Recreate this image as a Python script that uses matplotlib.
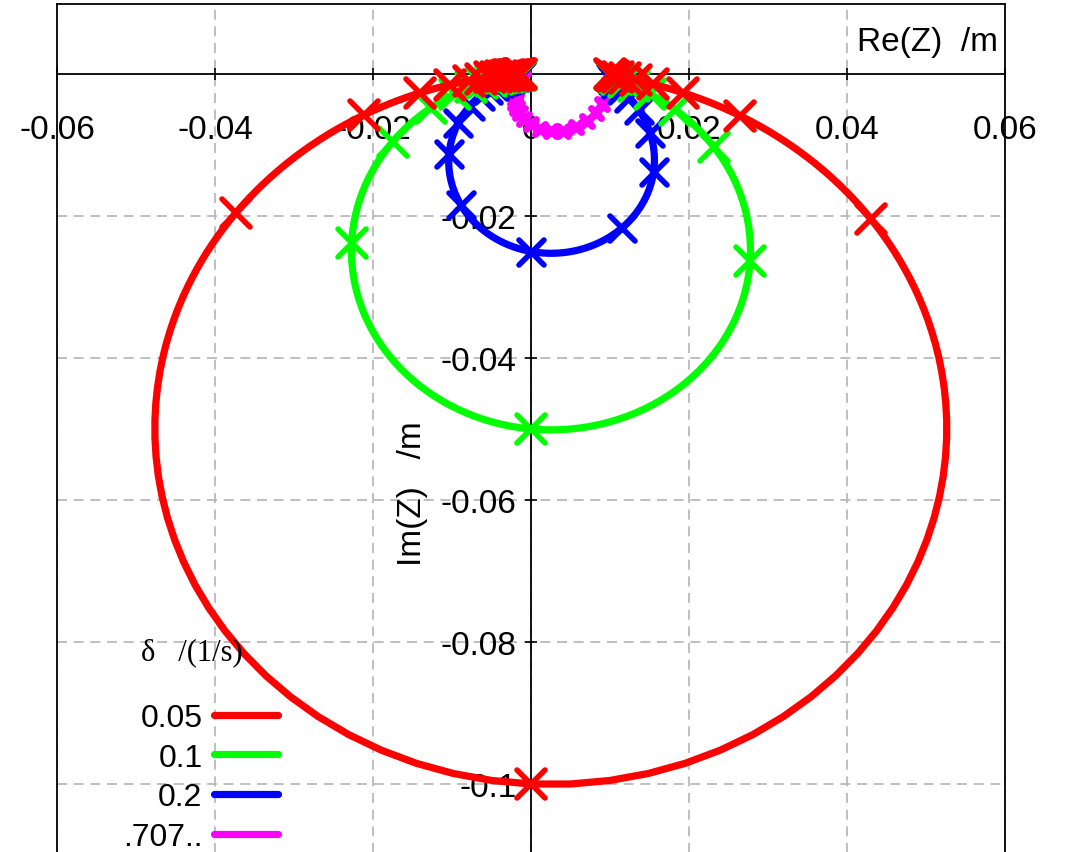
import numpy as np
import matplotlib
matplotlib.use('Agg')
import matplotlib.pyplot as plt
from matplotlib.lines import Line2D
from matplotlib.markers import MarkerStyle

plt.rcParams['font.family'] = ['Liberation Sans', 'DejaVu Sans']

# driven oscillator: Z = F/m / (w0^2 - w^2 + 2 i delta w)
f_over_m = 0.01      # m/s^2
omega0 = 1.0         # 1/s
deltas = [0.05, 0.1, 0.2, 0.707]
labels = ['0.05', '0.1', '0.2', '.707..']
colors = ['#ff0000', '#00ff00', '#0000ff', '#ff00ff']
omega_marks = np.round(np.arange(0, 3.0001, 0.1), 2)   # marker frequencies
omega_line = np.linspace(0, 3, 1201)

xticks = [-0.06, -0.04, -0.02, 0, 0.02, 0.04, 0.06]
yticks = [-0.1, -0.08, -0.06, -0.04, -0.02]


def response(w, d):
    return f_over_m / (omega0**2 - w**2 + 2j * d * w)


fig = plt.figure(figsize=(10.66, 8.53), dpi=100)
W, H = 1066, 853
x_left, x_right, y_top, y_bot = 57, 1005, 5, 870.2
ax = fig.add_axes([x_left / W, (H - y_bot) / H, (x_right - x_left) / W, (y_bot - y_top) / H])
ax.set_xlim(-0.06, 0.06)
ax.set_ylim(-0.112, 0.00986)

ax.grid(True, color='#b4b4b4', linestyle=(0, (6, 4)), linewidth=1.2)
ax.set_axisbelow(True)

# spines through the origin, plus frame on left/top/right
ax.spines['bottom'].set_position(('data', 0))
ax.spines['left'].set_position(('data', 0))
for s in ['bottom', 'left', 'top', 'right']:
    ax.spines[s].set_linewidth(1.3)
    ax.spines[s].set_zorder(1)
ax.plot([0, 0], [0, 1], transform=ax.transAxes, color='black', lw=1.3, clip_on=False, zorder=1)

ax.set_xticks(xticks)
ax.set_yticks(yticks)
ax.set_xticklabels([f'{v:g}' for v in xticks])
ax.set_yticklabels([f'{v:g}' for v in yticks])
ax.tick_params(axis='both', direction='inout', length=9, width=1.2, labelsize=24)
ax.tick_params(axis='x', pad=24)
ax.tick_params(axis='y', pad=6)

order = [3, 2, 1, 0]
for i in order:
    d = deltas[i]
    z_line = response(omega_line, d)
    z_mark = response(omega_marks, d)
    ax.plot(z_line.real, z_line.imag, color=colors[i], lw=5.2, solid_capstyle='round', zorder=3)
    if i == 3:
        ms, mew = 7.5, 5.0
    elif i == 2:
        ms, mew = 18, 4.0
    else:
        ms, mew = 20, 4.0
    ax.plot(z_mark.real, z_mark.imag, linestyle='none',
            marker=MarkerStyle('x', capstyle='round'), ms=ms, mew=mew,
            color=colors[i], zorder=3)

handles = [Line2D([], [], color=c, lw=5.2, solid_capstyle='round') for c in colors]
leg = ax.legend(handles, labels, markerfirst=False, frameon=False,
                loc='upper left',
                bbox_to_anchor=(123 / W, 1 - 704 / H), bbox_transform=fig.transFigure,
                prop={'size': 23}, handlelength=2.0, handletextpad=0.35,
                labelspacing=0.3, borderaxespad=0, borderpad=0)
leg.set_zorder(5)
fig.text(192 / W, 1 - 653 / H, 'δ   /(1/s)', ha='center', va='center',
         fontsize=22, family='Liberation Serif')

fig.text(998 / W, 1 - 42 / H, 'Re(Z)  /m', ha='right', va='center', fontsize=24)
fig.text(413 / W, 1 - 494 / H, 'Im(Z)   /m', ha='center', va='center', rotation=90, fontsize=24)

fig.savefig('out.png', dpi=100)
